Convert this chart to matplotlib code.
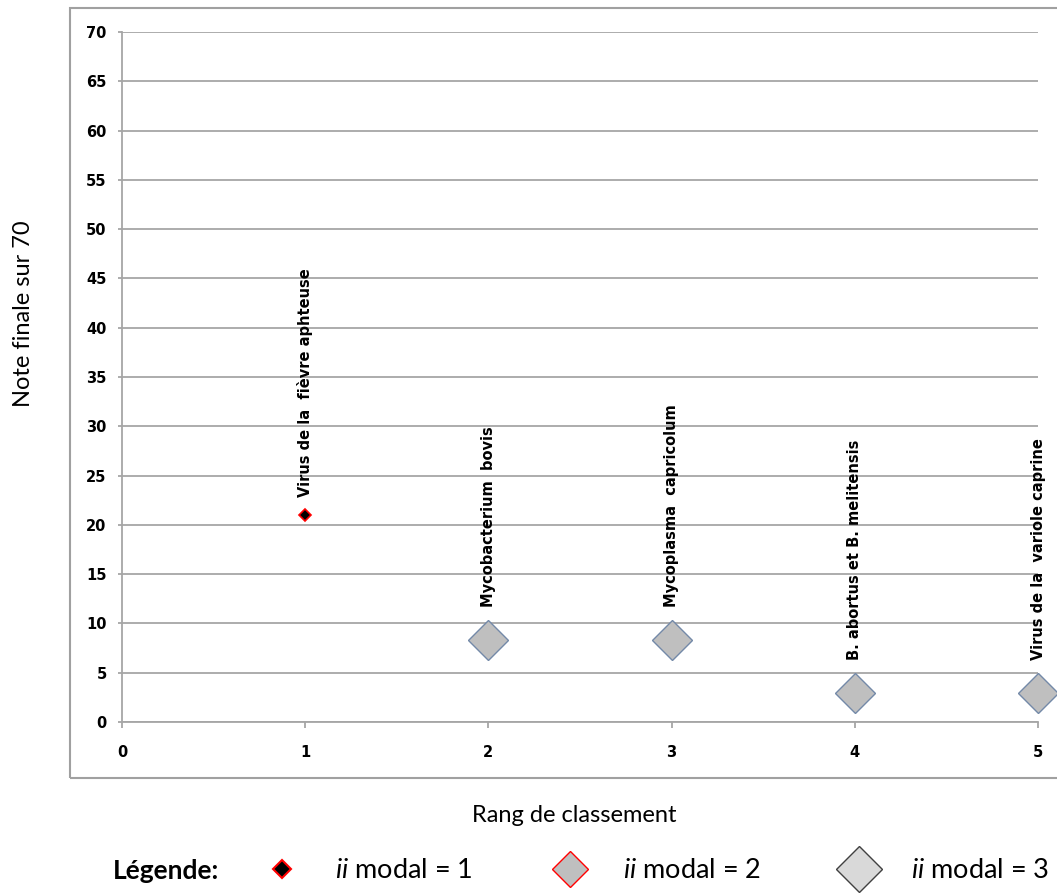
import matplotlib
matplotlib.use('Agg')
import matplotlib.pyplot as plt
from matplotlib.lines import Line2D
from matplotlib.patches import Rectangle

# donnees
rangs = [1, 2, 3, 4, 5]
notes = [21, 8.3, 8.3, 2.9, 2.9]
agents = ['Virus de la  fièvre aphteuse', 'Mycobacterium  bovis',
          'Mycoplasma  capricolum', 'B. abortus et B. melitensis',
          'Virus de la  variole caprine']
yticks = list(range(0, 75, 5))
xticks = [0, 1, 2, 3, 4, 5]
legende = ['modal = 1', 'modal = 2', 'modal = 3']

plt.rcParams['mathtext.fontset'] = 'custom'
plt.rcParams['mathtext.it'] = 'Lato:italic'
plt.rcParams['mathtext.rm'] = 'Lato'

W, H = 1057, 893
fig = plt.figure(figsize=(W / 100, H / 100), dpi=100)
fig.patch.set_facecolor('white')

# cadre exterieur
fig.add_artist(Rectangle((70 / W, 1 - 778 / H), 1.0, 770 / H, transform=fig.transFigure,
                         fill=False, edgecolor='#a0a0a0', linewidth=1.5))

ax = fig.add_axes([122 / W, 1 - 722 / H, (1038 - 122) / W, (722 - 32) / H])
gris = '#a6a6a6'
ax.set_xlim(0, 5)
ax.set_ylim(0, 70)
ax.set_yticks(yticks)
ax.set_xticks(xticks)
ax.grid(axis='y', color=gris, linewidth=1.3)
ax.set_axisbelow(True)
for s in ['top', 'right']:
    ax.spines[s].set_visible(False)
for s in ['left', 'bottom']:
    ax.spines[s].set_color(gris)
    ax.spines[s].set_linewidth(1.3)
ax.tick_params(axis='y', length=3, width=1.3, color=gris, pad=8)
ax.tick_params(axis='x', length=4.5, width=1.3, color=gris, pad=12)
for lab in ax.get_xticklabels() + ax.get_yticklabels():
    lab.set_fontweight('bold')
    lab.set_fontsize(10.5)

# points
ax.plot(rangs[0], notes[0], 'D', markersize=6.5, markerfacecolor='black',
        markeredgecolor='red', markeredgewidth=1.2, clip_on=False)
ax.plot(rangs[1:], notes[1:], 'D', linestyle='none', markersize=20,
        markerfacecolor='#bfbfbf', markeredgecolor='#7389a8', markeredgewidth=1.0, clip_on=False)

for i in range(len(rangs)):
    off = 13 if i == 0 else 24
    ax.annotate(agents[i], (rangs[i], notes[i]), xytext=(0, off), textcoords='offset points',
                rotation=90, ha='center', va='bottom', fontweight='bold', fontsize=10.5)

fig.text(24 / W, 1 - 314 / H, 'Note finale sur 70', rotation=90, ha='center', va='center',
         family='Lato', fontsize=17)
fig.text(574 / W, 1 - 816 / H, 'Rang de classement', ha='center', va='center',
         family='Lato', fontsize=17)

# legende
fig.text(113 / W, 1 - 871 / H, 'Légende:', ha='left', va='center',
         family='Lato', fontweight='bold', fontsize=19)
handles = [
    Line2D([], [], marker='D', linestyle='none', markersize=9, markerfacecolor='black',
           markeredgecolor='red', markeredgewidth=1.5),
    Line2D([], [], marker='D', linestyle='none', markersize=18, markerfacecolor='#bfbfbf',
           markeredgecolor='red', markeredgewidth=1.0),
    Line2D([], [], marker='D', linestyle='none', markersize=23, markerfacecolor='#d9d9d9',
           markeredgecolor='#404040', markeredgewidth=1.0),
]
labels = [r'$\it{ii}$ ' + t for t in legende]
fig.legend(handles, labels, loc='center left', bbox_to_anchor=(262 / W, 1 - 871 / H),
           ncol=3, frameon=False, prop={'family': 'Lato', 'size': 19.5},
           handlelength=1.5, handletextpad=1.2, columnspacing=2.85, borderpad=0,
           borderaxespad=0)

fig.savefig('out.png', dpi=100)
